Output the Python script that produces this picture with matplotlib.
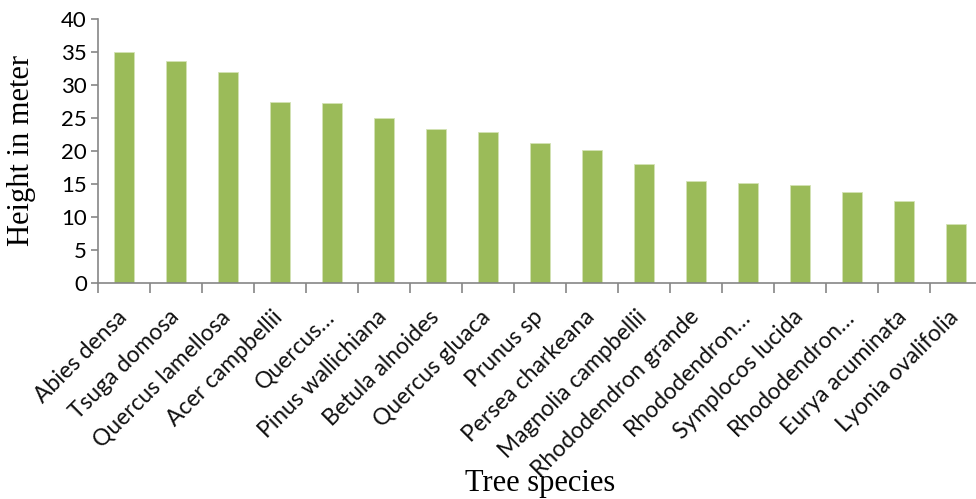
import numpy as np
import matplotlib
matplotlib.use('Agg')
import matplotlib.pyplot as plt
import matplotlib.transforms as mtransforms
from matplotlib.ticker import MultipleLocator, FixedLocator

species = ['Abies densa', 'Tsuga domosa', 'Quercus lamellosa', 'Acer campbellii',
           'Quercus\u2026', 'Pinus wallichiana', 'Betula alnoides', 'Quercus gluaca',
           'Prunus sp', 'Persea charkeana', 'Magnolia campbellii', 'Rhododendron grande',
           'Rhododendron\u2026', 'Symplocos lucida', 'Rhododendron\u2026', 'Eurya acuminata',
           'Lyonia ovalifolia']
height = [35.0, 33.6, 32.0, 27.4, 27.2, 25.0, 23.3, 22.9, 21.2, 20.2, 18.0, 15.4,
          15.1, 14.9, 13.8, 12.4, 8.9]

fig = plt.figure(figsize=(9.76, 4.99), dpi=100)
ax = fig.add_axes([98 / 976, 1 - 283 / 499, 1 - 98 / 976, 264 / 499])

x = np.arange(len(species))
ax.bar(x, height, width=0.4, color='#9BBB59', edgecolor='#d4e3b5', linewidth=0.6, zorder=2)

ax.set_xlim(-0.5, -0.5 + (976 - 98) / 52)
ax.set_ylim(0, 40)
ax.yaxis.set_major_locator(MultipleLocator(5))

# category separators as ticks, names at centres
ax.xaxis.set_major_locator(FixedLocator(np.arange(len(species) + 1) - 0.5))
ax.set_xticklabels([])
ax.set_xticks(x, minor=True)
ax.set_xticklabels(species, minor=True, rotation=45, ha='right', rotation_mode='anchor',
                   fontsize=16.5, family='Lato', color='#111111')
ax.tick_params(axis='x', which='minor', length=0, pad=6)
shift = mtransforms.ScaledTranslation(-8 / 100, -15 / 100, fig.dpi_scale_trans)
for lab in ax.get_xticklabels(minor=True):
    lab.set_transform(lab.get_transform() + shift)
ax.tick_params(axis='x', which='major', length=7, width=1.2, color='#868686', direction='out')
ax.tick_params(axis='y', length=5, width=1.2, color='#868686', labelsize=16, pad=3)
for lab in ax.get_yticklabels():
    lab.set_family('Lato')

for side in ['top', 'right']:
    ax.spines[side].set_visible(False)
for side in ['left', 'bottom']:
    ax.spines[side].set_color('#868686')
    ax.spines[side].set_linewidth(1.2)

fig.text(22 / 976, 1 - 151 / 499, 'Height in meter', rotation=90, ha='center', va='center',
         fontsize=22, family='Liberation Serif')
fig.text(540 / 976, 1 - 483 / 499, 'Tree species', ha='center', va='center',
         fontsize=22, family='Liberation Serif')

fig.savefig('out.png', dpi=100)
